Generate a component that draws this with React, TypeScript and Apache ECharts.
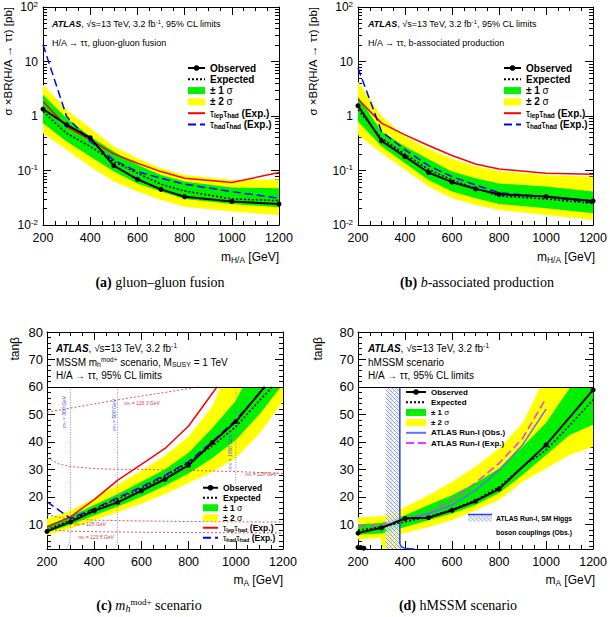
import React, { useEffect, useRef } from "react";
import * as echarts from "echarts";

type Pt = [number, number];

const FONT = '"Liberation Sans", Arial, Helvetica, sans-serif';
const SERIF = '"Liberation Serif", "Times New Roman", serif';

// ---------------- (a) gluon-gluon fusion ----------------
const massPoints = [200, 300, 400, 500, 600, 700, 800, 1000, 1200];
const ggfObserved = [1.34, 0.69, 0.4, 0.123, 0.069, 0.045, 0.033, 0.027, 0.0243];
const ggfExpected = [1.21, 0.48, 0.275, 0.146, 0.089, 0.056, 0.042, 0.03, 0.028];
const ggfOneSigmaUp = [2.45, 0.91, 0.42, 0.223, 0.127, 0.083, 0.0625, 0.049, 0.047];
const ggfOneSigmaDown = [0.74, 0.34, 0.18, 0.0955, 0.058, 0.041, 0.03, 0.0243, 0.0211];
const ggfTwoSigmaUp = [3.74, 1.3, 0.6, 0.275, 0.168, 0.11, 0.083, 0.067, 0.069];
const ggfTwoSigmaDown = [0.48, 0.239, 0.118, 0.0625, 0.041, 0.0288, 0.0217, 0.0176, 0.0153];
const ggfLepHad = [1.85, 0.64, 0.365, 0.202, 0.136, 0.0955, 0.072, 0.06, 0.092];
const ggfHadHad = [20.3, 0.98, 0.34, 0.155, 0.095, 0.072, 0.056, 0.041, 0.031];

// ---------------- (b) b-associated production ----------------
const bbObserved = [1.54, 0.35, 0.18, 0.092, 0.061, 0.046, 0.0366, 0.0332, 0.0276];
const bbExpected = [1.3, 0.39, 0.2, 0.105, 0.067, 0.047, 0.034, 0.03, 0.025];
const bbOneSigmaUp = [2.28, 0.52, 0.275, 0.161, 0.0955, 0.072, 0.058, 0.0506, 0.041];
const bbOneSigmaDown = [0.79, 0.28, 0.136, 0.067, 0.041, 0.031, 0.0243, 0.0202, 0.0164];
const bbTwoSigmaUp = [4.3, 1.0, 0.42, 0.25, 0.165, 0.12, 0.098, 0.083, 0.077];
const bbTwoSigmaDown = [0.45, 0.21, 0.103, 0.0506, 0.0309, 0.0233, 0.0189, 0.0153, 0.0124];
const bbLepHad = [2.04, 0.74, 0.45, 0.287, 0.188, 0.132, 0.107, 0.089, 0.085];
const bbHadHad = [7.6, 0.52, 0.239, 0.123, 0.077, 0.054, 0.039, 0.033, 0.0257];

// ---------------- (c) mh mod+ scenario (mA, tanβ) ----------------
const modObserved: Pt[] = [[200, 7.4], [300, 10.9], [400, 14.9], [500, 18.0], [600, 22.2], [700, 26.4], [800, 31.5], [900, 39.7], [1000, 47.4], [1122, 60]];
const modExpected: Pt[] = [[200, 8.0], [300, 11.5], [400, 15.5], [500, 19.2], [600, 23.0], [700, 27.5], [800, 32.5], [900, 38.5], [1000, 45.5], [1100, 55], [1155, 60]];
const modOneSigmaUp: Pt[] = [[200, 9.5], [300, 13.0], [400, 17.0], [500, 21.0], [600, 25.5], [700, 30.0], [800, 36.0], [900, 45.0], [1000, 55.0], [1030, 60], [1200, 60]];
const modOneSigmaDown: Pt[] = [[200, 7.0], [300, 9.8], [400, 13.2], [500, 16.5], [600, 20.0], [700, 24.0], [800, 28.5], [900, 34.0], [1000, 40.7], [1100, 50.0], [1190, 60], [1200, 60]];
const modTwoSigmaUp: Pt[] = [[200, 12.0], [300, 15.0], [400, 19.5], [500, 24.5], [600, 29.5], [700, 35.0], [800, 42.0], [900, 53.0], [935, 60], [1200, 60]];
const modTwoSigmaDown: Pt[] = [[200, 6.0], [300, 8.5], [400, 11.5], [500, 14.5], [600, 17.5], [700, 21.0], [800, 25.0], [900, 29.0], [1000, 34.0], [1100, 43.0], [1200, 54.7]];
const modLepHad: Pt[] = [[200, 9.0], [300, 12.7], [400, 19.0], [500, 26.1], [600, 31.8], [700, 37.6], [800, 45.8], [920, 60]];
const modHadHad: Pt[] = [[200, 18.2], [300, 12.1], [400, 15.7], [500, 19.7], [600, 23.6], [700, 27.9], [800, 32.8], [900, 40.0], [1000, 48.0], [1125, 60]];
const mh1263: Pt[] = [[200, 50.8], [300, 52.3], [400, 53.8], [500, 55.3], [600, 56.7], [700, 58.0], [800, 59.4], [840, 60]];
const mh128: Pt[] = [[200, 34.2], [250, 32.0], [300, 31.0], [400, 30.3], [500, 30.0], [600, 30.0], [800, 29.6], [1000, 29.2], [1200, 28.5]];
const mh125: Pt[] = [[200, 13.5], [250, 12.5], [300, 12.0], [400, 11.5], [600, 11.2], [800, 11.0], [1000, 10.9], [1200, 10.8]];
const mh1235: Pt[] = [[200, 8.0], [300, 7.5], [400, 7.3], [600, 7.1], [800, 7.0], [1200, 6.8]];
const mH300: Pt[] = [[299, 60], [299, 6], [294, 3], [281, 1]];
const mH500: Pt[] = [[499, 60], [499, 4], [491, 2], [484, 1]];
const mH1000: Pt[] = [[1000, 60], [1000, 25]];

// ---------------- (d) hMSSM scenario ----------------
const hObserved: Pt[] = [[200, 6.8], [300, 8.7], [400, 12.1], [500, 12.4], [600, 15.1], [700, 18.4], [800, 22.8], [1000, 38.9], [1200, 58.9]];
const hObservedLow: Pt[] = [[200, 1.6], [212, 1.5], [225, 1.3]];
const hExpected: Pt[] = [[200, 7.8], [300, 9.0], [400, 10.9], [500, 12.7], [600, 15.4], [700, 18.8], [800, 23.6], [900, 31.0], [1000, 37.0], [1100, 46.0], [1200, 55.3]];
const hOneSigmaUp: Pt[] = [[200, 10.0], [300, 10.5], [400, 13.3], [500, 17.0], [600, 20.6], [700, 25.0], [800, 30.3], [900, 38.2], [1000, 47.0], [1100, 59.5], [1105, 60], [1200, 60]];
const hOneSigmaDown: Pt[] = [[200, 6.2], [300, 6.6], [400, 9.0], [500, 11.5], [600, 13.9], [700, 17.0], [800, 21.4], [900, 27.9], [1000, 35.2], [1100, 42.5], [1200, 46.2]];
const hTwoSigmaUp: Pt[] = [[200, 12.5], [300, 12.9], [400, 16.3], [500, 20.6], [600, 25.5], [700, 31.0], [800, 37.6], [900, 46.8], [975, 60], [1200, 60]];
const hTwoSigmaDown: Pt[] = [[200, 4.5], [295, 5.0], [305, 1], [380, 1], [383, 6.6], [400, 6.8], [500, 9.0], [600, 11.5], [700, 15.1], [800, 18.8], [900, 25.5], [1000, 30.3], [1100, 35.2], [1200, 38.2]];
const run1Observed: Pt[] = [[385, 11.5], [500, 13.9], [600, 17.0], [700, 22.4], [800, 29.7], [900, 38.9], [1000, 51.9]];
const run1Expected: Pt[] = [[200, 9.5], [300, 9.5], [400, 12.1], [500, 13.9], [600, 19.0], [700, 25.1], [800, 32.2], [900, 41.3], [1000, 55.9]];
const couplingsRegion: Pt[] = [[318, 1], [318, 60], [378, 60], [378, 3], [384, 1.8], [398, 1.3], [440, 1]];
const couplingsEdge: Pt[] = [[378, 60], [378, 3], [384, 1.8], [398, 1.3], [440, 1.03]];

// ---------------- ticks ----------------
const logMajorTicks = [0.01, 0.1, 1, 10, 100];
const logTickLabels = ["10{sup|-2}", "10{sup|-1}", "1", "10", "10{sup|2}"];
const logMinorTicks = [
  0.02, 0.03, 0.04, 0.05, 0.06, 0.07, 0.08, 0.09,
  0.2, 0.3, 0.4, 0.5, 0.6, 0.7, 0.8, 0.9,
  2, 3, 4, 5, 6, 7, 8, 9,
  20, 30, 40, 50, 60, 70, 80, 90,
];
const tanbTicks = [10, 20, 30, 40, 50, 60, 70, 80];
const tanbMinorTicks = [2, 4, 6, 8, 12, 14, 16, 18, 22, 24, 26, 28, 32, 34, 36, 38, 42, 44, 46, 48, 52, 54, 56, 58, 62, 64, 66, 68, 72, 74, 76, 78];

const zip = (xs: number[], ys: number[]): Pt[] => xs.map((x, i) => [x, ys[i]]);

const GREEN = "#00f000";
const YELLOW = "#ffff00";
const RED = "#ff0000";
const BLUE = "#0000ff";

const GRIDS = [
  { left: 43, top: 7, width: 236, height: 218 },
  { left: 358, top: 7, width: 237, height: 218 },
  { left: 47, top: 332, width: 236, height: 217 },
  { left: 358, top: 332, width: 237, height: 217 },
];

const tickLine = { color: "#000", width: 1 };

function xAxesFor(g: number) {
  const base: any = {
    type: "value", gridIndex: g, min: 200, max: 1200, interval: 200,
    splitLine: { show: false },
    axisLine: { show: true, onZero: false, lineStyle: tickLine },
    axisTick: { show: true, inside: true, length: 8, lineStyle: tickLine },
    minorTick: { show: true, splitNumber: 4, length: 4, lineStyle: tickLine },
  };
  return [
    {
      ...base, position: "bottom",
      axisLabel: { show: true, margin: 6, color: "#000", fontSize: 12.5, fontFamily: FONT, formatter: (v: number) => String(v) },
    },
    { ...base, position: "top", axisLabel: { show: false } },
  ];
}

function logLabel(v: number) {
  const e = Math.round(Math.log10(v));
  const idx = logMajorTicks.findIndex((t) => Math.round(Math.log10(t)) === e);
  return idx >= 0 ? logTickLabels[idx] : "";
}

function logYAxesFor(g: number) {
  const base: any = {
    type: "log", logBase: 10, gridIndex: g, min: 0.01, max: 100,
    splitLine: { show: false }, minorTick: { show: false },
    axisLine: { show: true, onZero: false, lineStyle: tickLine },
    axisTick: { show: true, inside: true, length: 8, lineStyle: tickLine },
  };
  const minor: any = {
    ...base, axisLine: { show: false }, axisLabel: { show: false },
    axisTick: { show: true, inside: true, length: 4, lineStyle: tickLine, customValues: logMinorTicks },
  };
  return [
    {
      ...base, position: "left",
      axisLabel: {
        show: true, margin: 5, color: "#000", fontSize: 12, fontFamily: FONT, lineHeight: 14,
        formatter: logLabel,
        rich: { sup: { fontSize: 8, fontFamily: FONT, color: "#000", verticalAlign: "top", lineHeight: 5 } },
      },
    },
    { ...base, position: "right", axisLabel: { show: false } },
    { ...minor, position: "left" },
    { ...minor, position: "right" },
  ];
}

function tanbYAxesFor(g: number) {
  const base: any = {
    type: "value", gridIndex: g, min: 1, max: 80,
    splitLine: { show: false }, minorTick: { show: false },
    axisLine: { show: true, onZero: false, lineStyle: tickLine },
    axisTick: { show: true, inside: true, length: 8, lineStyle: tickLine, customValues: tanbTicks },
  };
  const minor: any = {
    ...base, axisLine: { show: false }, axisLabel: { show: false },
    axisTick: { show: true, inside: true, length: 4, lineStyle: tickLine, customValues: tanbMinorTicks },
  };
  return [
    { ...base, position: "left", axisLabel: { show: true, margin: 4, color: "#000", fontSize: 13, fontFamily: FONT, customValues: tanbTicks } },
    { ...base, position: "right", axisLabel: { show: false } },
    { ...minor, position: "left" },
    { ...minor, position: "right" },
  ];
}

function lineSeries(name: string, p: number, data: any[], color: string, width: number, type: any, z: number, withSymbol = false, extra: any = {}) {
  return {
    type: "line", name, xAxisIndex: p * 2, yAxisIndex: p * 4, data, z, silent: true, clip: true,
    symbol: withSymbol ? "circle" : "none", symbolSize: 5, showSymbol: withSymbol,
    itemStyle: { color }, lineStyle: { color, width, type },
    emphasis: { disabled: true },
    ...extra,
  };
}

function bandSeries(name: string, p: number, upper: Pt[], lower: Pt[], color: any, z: number) {
  return {
    type: "custom", name, xAxisIndex: p * 2, yAxisIndex: p * 4, silent: true, z, clip: true,
    itemStyle: { color: typeof color === "string" ? color : "#8090d0" },
    data: [upper[0]],
    renderItem: (_params: any, api: any) => {
      const pts = upper.map((q) => api.coord(q)).concat(lower.slice().reverse().map((q) => api.coord(q)));
      return { type: "polygon", shape: { points: pts }, style: { fill: color } };
    },
  };
}

const legendNames: Record<string, string> = {
  Observed: "Observed",
  Expected: "Expected",
  "±1 σ": "± 1 {g|σ}",
  "±2 σ": "± 2 {g|σ}",
  lephad: "{g|τ}{s|lep}{g|τ}{s|had} (Exp.)",
  hadhad: "{g|τ}{s|had}{g|τ}{s|had} (Exp.)",
  run1obs: "ATLAS Run-I (Obs.)",
  run1exp: "ATLAS Run-I (Exp.)",
};

function mkLegend(left: number, top: number, size: number, gap: number, iw: number, names: string[]) {
  return {
    show: true, orient: "vertical", left, top, itemWidth: iw, itemHeight: 7, itemGap: gap, padding: 0,
    selectedMode: false,
    formatter: (n: string) => legendNames[n] ?? n,
    textStyle: {
      fontSize: size, fontWeight: "bold", fontFamily: FONT, color: "#000", lineHeight: size + 1,
      rich: {
        g: { fontSize: size, fontWeight: "normal", fontFamily: FONT, color: "#000" },
        s: { fontSize: size * 0.65, fontWeight: "bold", fontFamily: FONT, color: "#000", verticalAlign: "bottom", lineHeight: 3 },
      },
    },
    data: names.map((n) => {
      if (n.startsWith("±")) return { name: n, icon: "rect" };
      if (n === "Observed") return { name: n };
      return { name: n, itemStyle: { opacity: 0 } };
    }),
  };
}

function richFor(size: number, fill = "#000") {
  return {
    atl: { fontWeight: "bold", fontStyle: "italic", fontSize: size, fontFamily: FONT, fill },
    b: { fontWeight: "bold", fontSize: size, fontFamily: FONT, fill },
    sup: { fontSize: size * 0.65, fontFamily: FONT, fill, verticalAlign: "top", lineHeight: size * 0.4 },
    sub: { fontSize: size * 0.7, fontFamily: FONT, fill, verticalAlign: "bottom", lineHeight: size * 0.4 },
  };
}

function txt(x: number, y: number, text: string, size: number, opts: any = {}, elOpts: any = {}) {
  const fill = opts.fill ?? "#000";
  return {
    type: "text", x, y, silent: true, z: 100, ...elOpts,
    style: {
      text, fontSize: size, fontFamily: FONT, fill, align: "left", verticalAlign: "middle",
      lineHeight: size * 1.15, rich: richFor(size, fill), ...opts,
    },
  };
}

function caption(cx: number, y: number, text: string) {
  return {
    type: "text", x: cx, y, silent: true, z: 100,
    style: {
      text, fontSize: 14, fontFamily: SERIF, fill: "#000", align: "center", verticalAlign: "middle", lineHeight: 16,
      rich: {
        b: { fontWeight: "bold", fontSize: 14, fontFamily: SERIF, fill: "#000" },
        i: { fontStyle: "italic", fontSize: 14, fontFamily: SERIF, fill: "#000" },
        sub: { fontStyle: "italic", fontSize: 10, fontFamily: SERIF, fill: "#000", verticalAlign: "bottom", lineHeight: 5 },
        sup: { fontSize: 9, fontFamily: SERIF, fill: "#000", verticalAlign: "top", lineHeight: 4 },
      },
    },
  };
}

function makeHatch(): any {
  try {
    const c = document.createElement("canvas");
    c.width = 4; c.height = 4;
    const g = c.getContext("2d")!;
    g.fillStyle = "rgba(245,246,252,0.72)";
    g.fillRect(0, 0, 4, 4);
    g.fillStyle = "rgba(110,130,210,0.75)";
    g.fillRect(0, 0, 1, 1);
    g.fillRect(1, 1, 1, 1);
    g.fillRect(2, 2, 1, 1);
    g.fillRect(3, 3, 1, 1);
    g.fillStyle = "rgba(170,175,200,0.55)";
    g.fillRect(3, 1, 1, 1);
    g.fillRect(1, 3, 1, 1);
    return { image: c.toDataURL(), repeat: "repeat", imageWidth: 4, imageHeight: 4 };
  } catch (e) {
    return "rgba(190,198,235,0.7)";
  }
}

function buildOption() {
  const hatch = makeHatch();
  const series: any[] = [];

  // (a)
  series.push(bandSeries("±2 σ", 0, zip(massPoints, ggfTwoSigmaUp), zip(massPoints, ggfTwoSigmaDown), YELLOW, 1));
  series.push(bandSeries("±1 σ", 0, zip(massPoints, ggfOneSigmaUp), zip(massPoints, ggfOneSigmaDown), GREEN, 2));
  series.push(lineSeries("lephad", 0, zip(massPoints, ggfLepHad), RED, 1.5, "solid", 4));
  series.push(lineSeries("hadhad", 0, zip(massPoints, ggfHadHad), BLUE, 1.5, [8, 4], 5));
  series.push(lineSeries("Expected", 0, zip(massPoints, ggfExpected), "#000", 1.5, [2, 2], 6));
  series.push(lineSeries("Observed", 0, zip(massPoints, ggfObserved), "#000", 2, "solid", 7, true));

  // (b)
  series.push(bandSeries("±2 σ", 1, zip(massPoints, bbTwoSigmaUp), zip(massPoints, bbTwoSigmaDown), YELLOW, 1));
  series.push(bandSeries("±1 σ", 1, zip(massPoints, bbOneSigmaUp), zip(massPoints, bbOneSigmaDown), GREEN, 2));
  series.push(lineSeries("lephad", 1, zip(massPoints, bbLepHad), RED, 1.5, "solid", 4));
  series.push(lineSeries("hadhad", 1, zip(massPoints, bbHadHad), BLUE, 1.5, [8, 4], 5));
  series.push(lineSeries("Expected", 1, zip(massPoints, bbExpected), "#000", 1.5, [2, 2], 6));
  series.push(lineSeries("Observed", 1, zip(massPoints, bbObserved), "#000", 2, "solid", 7, true));

  // (c)
  series.push(bandSeries("±2 σ", 2, modTwoSigmaUp, modTwoSigmaDown, YELLOW, 1));
  series.push(bandSeries("±1 σ", 2, modOneSigmaUp, modOneSigmaDown, GREEN, 2));
  const contour = (d: Pt[], color: string, dash: any) => lineSeries("contour", 2, d, color, 1, dash, 3);
  series.push(contour(mh1263, "#e05555", [2, 2]));
  series.push(contour(mh128, "#e05555", [2, 2]));
  series.push(contour(mh125, "#e05555", [2, 2]));
  series.push(contour(mh1235, "#e05555", [2, 2]));
  series.push(contour(mH300, "#8080ff", [1, 1.5]));
  series.push(contour(mH500, "#8080ff", [1, 1.5]));
  series.push(contour(mH1000, "#8080ff", [1, 1.5]));
  series.push(lineSeries("lephad", 2, modLepHad, RED, 1.5, "solid", 4));
  series.push(lineSeries("hadhad", 2, modHadHad, BLUE, 1.5, [8, 4], 5));
  series.push(lineSeries("Expected", 2, modExpected, "#000", 1.5, [2, 2], 6));
  series.push(
    lineSeries(
      "Observed", 2,
      modObserved.map((q) => (q[1] >= 60 ? { value: q, symbol: "none" } : q)),
      "#000", 2, "solid", 7, true,
      { markLine: { silent: true, symbol: "none", label: { show: false }, lineStyle: { color: "#000", type: "solid", width: 1 }, data: [{ yAxis: 60 }] } },
    ),
  );

  // (d)
  series.push(bandSeries("±2 σ", 3, hTwoSigmaUp, hTwoSigmaDown, YELLOW, 1));
  series.push(bandSeries("±1 σ", 3, hOneSigmaUp, hOneSigmaDown, GREEN, 2));
  series.push(bandSeries("couplings", 3, couplingsRegion, [], hatch, 3));
  series.push(lineSeries("couplingsEdge", 3, couplingsEdge, "#2040ff", 1.5, "solid", 4));
  series.push(lineSeries("run1exp", 3, run1Expected, "#ff30ff", 1.5, [8, 4], 5));
  series.push(lineSeries("run1obs", 3, run1Observed, "#6070f0", 1.5, "solid", 5));
  series.push(lineSeries("Expected", 3, hExpected, "#000", 1.5, [2, 2], 6));
  series.push(
    lineSeries("Observed", 3, hObserved, "#000", 2, "solid", 7, true, {
      markLine: { silent: true, symbol: "none", label: { show: false }, lineStyle: { color: "#000", type: "solid", width: 1 }, data: [{ yAxis: 60 }] },
    }),
  );
  series.push(lineSeries("ObservedLow", 3, hObservedLow, "#000", 2, "solid", 7, true));

  const xAxis = [...xAxesFor(0), ...xAxesFor(1), ...xAxesFor(2), ...xAxesFor(3)];
  const yAxis = [...logYAxesFor(0), ...logYAxesFor(1), ...tanbYAxesFor(2), ...tanbYAxesFor(3)];

  const legend = [
    mkLegend(187, 62.5, 10, 0.3, 17, ["Observed", "Expected", "±1 σ", "±2 σ", "lephad", "hadhad"]),
    mkLegend(503, 62.5, 10, 0.3, 17, ["Observed", "Expected", "±1 σ", "±2 σ", "lephad", "hadhad"]),
    mkLegend(202, 483, 8.5, 0.5, 15, ["Observed", "Expected", "±1 σ", "±2 σ", "lephad", "hadhad"]),
    mkLegend(405, 387.5, 8, 1.2, 20, ["Observed", "Expected", "±1 σ", "±2 σ", "run1obs", "run1exp"]),
  ];

  const atlasLine = "{atl|ATLAS}, √s=13 TeV, 3.2 fb{sup|-1}";
  const graphic: any[] = [
    // (a)
    txt(52, 24, atlasLine + ", 95% CL limits", 9),
    txt(52, 43, "H/A → ττ, gluon-gluon fusion", 9),
    txt(8, 7, "σ ×BR(H/A → ττ) [pb]", 11.5, { align: "right" }, { rotation: Math.PI / 2 }),
    txt(279, 257, "m{sub|H/A} [GeV]", 12, { align: "right" }),
    caption(160, 282, "{b|(a)} gluon–gluon fusion"),
    // (b)
    txt(368, 24, atlasLine + ", 95% CL limits", 9),
    txt(368, 43, "H/A → ττ, b-associated production", 9),
    txt(313, 7, "σ ×BR(H/A → ττ) [pb]", 11.5, { align: "right" }, { rotation: Math.PI / 2 }),
    txt(595, 257, "m{sub|H/A} [GeV]", 12, { align: "right" }),
    caption(477, 282, "{b|(b)} {i|b}-associated production"),
    // (c)
    txt(56, 348, atlasLine, 10),
    txt(56, 362, "MSSM m{sub|h}{sup|mod+} scenario, M{sub|SUSY} = 1 TeV", 10),
    txt(56, 375, "H/A → ττ, 95% CL limits", 10),
    txt(15, 337, "tanβ", 12, { align: "right" }, { rotation: Math.PI / 2 }),
    txt(283, 580, "m{sub|A} [GeV]", 12, { align: "right" }),
    caption(149, 605, "{b|(c)} {i|m}{sub|h}{sup|mod+} scenario"),
    txt(142, 403, "m{sub|h} = 126.3 GeV", 5, { align: "center", fill: "#d04040", fontStyle: "italic" }),
    txt(261, 474, "m{sub|h} = 128 GeV", 5, { align: "center", fill: "#d04040", fontStyle: "italic" }),
    txt(90, 524, "m{sub|h} = 125 GeV", 5, { align: "center", fill: "#d04040", fontStyle: "italic" }),
    txt(96, 537, "m{sub|h} = 123.5 GeV", 5, { align: "center", fill: "#d04040", fontStyle: "italic" }),
    txt(64, 412, "m{sub|H} = 300 GeV", 5, { align: "center", fill: "#5050e0", fontStyle: "italic" }, { rotation: Math.PI / 2 }),
    txt(114, 415, "m{sub|H} = 500 GeV", 5, { align: "center", fill: "#5050e0", fontStyle: "italic" }, { rotation: Math.PI / 2 }),
    txt(230, 452, "m{sub|H} = 1000 GeV", 5, { align: "center", fill: "#5050e0", fontStyle: "italic" }, { rotation: Math.PI / 2 }),
    // (d)
    txt(368, 348, atlasLine, 10),
    txt(368, 362, "hMSSM scenario", 10),
    txt(368, 375, "H/A → ττ, 95% CL limits", 10),
    txt(318, 337, "tanβ", 12, { align: "right" }, { rotation: Math.PI / 2 }),
    txt(595, 580, "m{sub|A} [GeV]", 12, { align: "right" }),
    caption(458, 605, "{b|(d)} hMSSM scenario"),
    { type: "rect", x: 468, y: 514.5, shape: { width: 24, height: 7 }, style: { fill: hatch }, silent: true, z: 100 },
    { type: "line", x: 0, y: 0, shape: { x1: 468, y1: 514.5, x2: 492, y2: 514.5 }, style: { stroke: "#2040ff", lineWidth: 1.5 }, silent: true, z: 101 },
    txt(496, 518, "ATLAS Run-I, SM Higgs", 6.8, { fontWeight: "bold" }),
    txt(496, 532, "boson couplings (Obs.)", 6.8, { fontWeight: "bold" }),
  ];

  return {
    animation: false,
    backgroundColor: "#fff",
    grid: GRIDS.map((g) => ({ ...g, containLabel: false, show: false })),
    xAxis,
    yAxis,
    legend,
    series,
    graphic,
  };
}

export default function App() {
  const ref = useRef<HTMLDivElement>(null);
  useEffect(() => {
    if (!ref.current) return;
    const chart = echarts.init(ref.current, undefined, { renderer: "svg" });
    chart.setOption(buildOption() as any);
    return () => chart.dispose();
  }, []);
  return (
    <div
      ref={ref}
      style={{ position: "absolute", left: 0, top: 0, width: 610, height: 617, background: "#fff" }}
    />
  );
}
